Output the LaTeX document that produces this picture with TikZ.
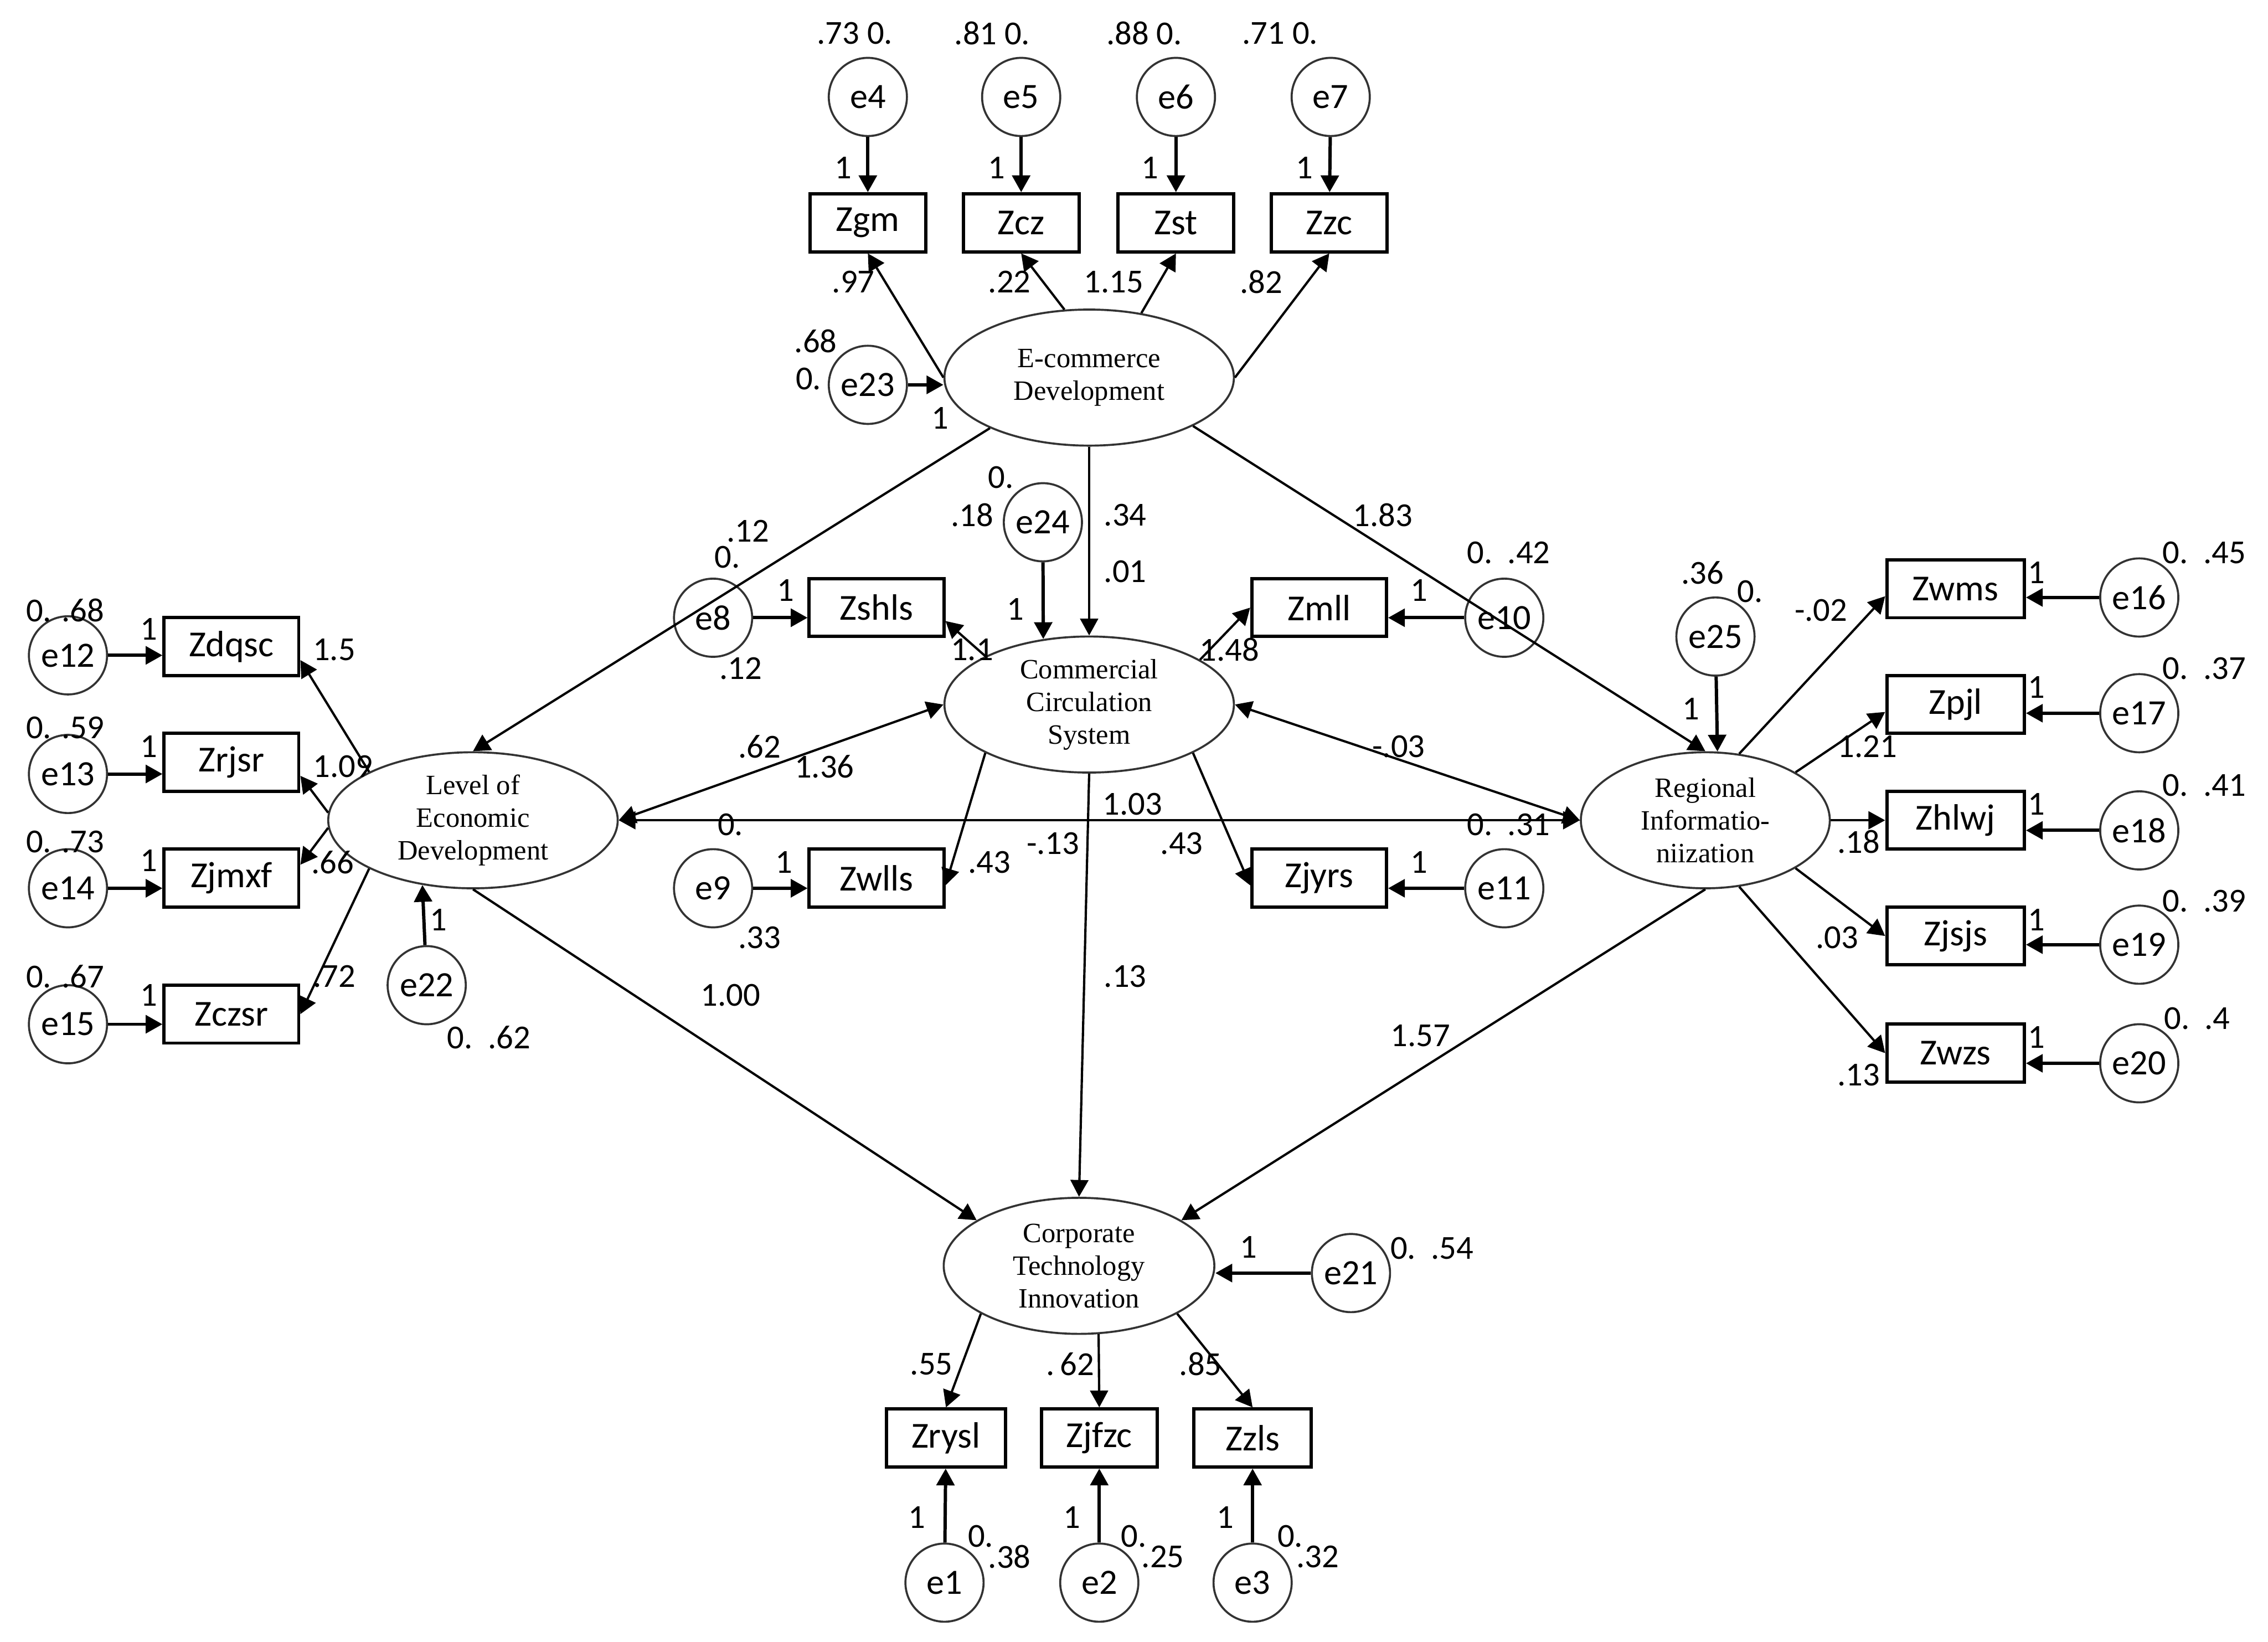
\documentclass[tikz,border=0pt]{standalone}
\usepackage{fontspec}
\setmainfont{Liberation Serif}
\newfontfamily\amosfont{Carlito}
\usetikzlibrary{arrows.meta, shapes.geometric}

\begin{document}
\begin{tikzpicture}[x=0.01cm, y=-0.01cm, >={Triangle[length=3.3pt,width=3.5pt]},
  err/.style={circle, draw=black!80, line width=0.4pt, minimum size=5.4mm, inner sep=0, font=\amosfont\fontsize{7}{8}\selectfont},
  obs/.style={rectangle, draw, line width=0.65pt, minimum width=8mm, minimum height=4mm, inner sep=0, font=\amosfont\fontsize{7.2}{8}\selectfont},
  lat/.style={ellipse, draw=black!80, line width=0.4pt, minimum width=20mm, minimum height=9.4mm, inner sep=0, align=center, font=\fontsize{5.5}{6.4}\selectfont},
  num/.style={inner sep=0, font=\amosfont\fontsize{6.6}{7}\selectfont},
  load/.style={->, line width=0.45pt},
  fix/.style={->, line width=0.65pt}]
  \useasboundingbox (0,0) rectangle (1568,1135);

  \node[lat] (ecd) at (753,261) {E-commerce\\Development};
  \node[lat] (ccs) at (753,487) {Commercial\\Circulation\\System};
  \node[lat] (led) at (327,567) {Level of\\Economic\\Development};
  \node[lat, minimum width=17.2mm] (ri) at (1179,567) {Regional\\Informatio-\\niization};
  \node[lat, minimum width=18.7mm] (cti) at (746,875) {Corporate\\Technology\\Innovation};

  \node[err] (e4) at (600,67) {e4};
  \node[err] (e5) at (706,67) {e5};
  \node[err] (e6) at (813,67) {e6};
  \node[err] (e7) at (920,67) {e7};
  \node[obs] (Zgm) at (600,154) {Zgm};
  \node[obs] (Zcz) at (706,154) {Zcz};
  \node[obs] (Zst) at (813,154) {Zst};
  \node[obs] (Zzc) at (919,154) {Zzc};
  \node[err] (e23) at (600,266) {e23};

  \node[err] (e24) at (721,361) {e24};
  \node[err] (e8) at (493,427) {e8};
  \node[obs, minimum width=9.3mm] (Zshls) at (606,420) {Zshls};
  \node[obs, minimum width=9.3mm] (Zmll) at (912,420) {Zmll};
  \node[err] (e10) at (1040,427) {e10};
  \node[err] (e9) at (493,614) {e9};
  \node[obs, minimum width=9.3mm] (Zwlls) at (606,607) {Zwlls};
  \node[obs, minimum width=9.3mm] (Zjyrs) at (912,607) {Zjyrs};
  \node[err] (e11) at (1040,614) {e11};

  \node[err] (e12) at (47,453) {e12};
  \node[err] (e13) at (47,535) {e13};
  \node[err] (e14) at (47,614) {e14};
  \node[err] (e15) at (47,708) {e15};
  \node[obs, minimum width=9.3mm] (Zdqsc) at (160,447) {Zdqsc};
  \node[obs, minimum width=9.3mm] (Zrjsr) at (160,527) {Zrjsr};
  \node[obs, minimum width=9.3mm] (Zjmxf) at (160,607) {Zjmxf};
  \node[obs, minimum width=9.3mm] (Zczsr) at (160,701) {Zczsr};
  \node[err] (e22) at (295,681) {e22};

  \node[obs, minimum width=9.5mm] (Zwms) at (1352,407) {Zwms};
  \node[obs, minimum width=9.5mm] (Zpjl) at (1352,487) {Zpjl};
  \node[obs, minimum width=9.5mm] (Zhlwj) at (1352,567) {Zhlwj};
  \node[obs, minimum width=9.5mm] (Zjsjs) at (1352,647) {Zjsjs};
  \node[obs, minimum width=9.5mm] (Zwzs) at (1352,728) {Zwzs};
  \node[err] (e16) at (1479,413) {e16};
  \node[err] (e17) at (1479,493) {e17};
  \node[err] (e18) at (1479,574) {e18};
  \node[err] (e19) at (1479,653) {e19};
  \node[err] (e20) at (1479,735) {e20};
  \node[err] (e25) at (1186,440) {e25};

  \node[err] (e21) at (934,880) {e21};
  \node[obs, minimum width=8.2mm] (Zrysl) at (654,994) {Zrysl};
  \node[obs] (Zjfzc) at (760,994) {Zjfzc};
  \node[obs, minimum width=8.1mm] (Zzls) at (866,994) {Zzls};
  \node[err] (e1) at (653,1094) {e1};
  \node[err] (e2) at (760,1094) {e2};
  \node[err] (e3) at (866,1094) {e3};

  \draw[fix] (e4) -- (Zgm);
  \draw[fix] (e5) -- (Zcz);
  \draw[fix] (e6) -- (Zst);
  \draw[fix] (e7) -- (Zzc);
  \draw[fix] (e23) -- (e23 -| ecd.west);
  \draw[fix] (e24) -- (ccs.125);
  \draw[fix] (e8) -- (e8 -| Zshls.west);
  \draw[fix] (e10) -- (e10 -| Zmll.east);
  \draw[fix] (e9) -- (e9 -| Zwlls.west);
  \draw[fix] (e11) -- (e11 -| Zjyrs.east);
  \draw[fix] (e12) -- (e12 -| Zdqsc.west);
  \draw[fix] (e13) -- (e13 -| Zrjsr.west);
  \draw[fix] (e14) -- (e14 -| Zjmxf.west);
  \draw[fix] (e15) -- (e15 -| Zczsr.west);
  \draw[fix] (e22) -- (led.232);
  \draw[fix] (e16) -- (e16 -| Zwms.east);
  \draw[fix] (e17) -- (e17 -| Zpjl.east);
  \draw[fix] (e18) -- (e18 -| Zhlwj.east);
  \draw[fix] (e19) -- (e19 -| Zjsjs.east);
  \draw[fix] (e20) -- (e20 -| Zwzs.east);
  \draw[fix] (e25) -- (ri.80);
  \draw[fix] (e21) -- (e21 -| cti.east);
  \draw[fix] (e1) -- (Zrysl);
  \draw[fix] (e2) -- (Zjfzc);
  \draw[fix] (e3) -- (Zzls);

  \draw[load] (ecd.west) -- (Zgm.south);
  \draw[load] (ecd.110) -- (Zcz.south);
  \draw[load] (ecd.51) -- (Zst.south);
  \draw[load] (ecd.east) -- (Zzc.south);
  \draw[load] (ccs.155) -- (Zshls.-11);
  \draw[load] (ccs.22) -- (Zmll.west);
  \draw[load] (ccs.205) -- (Zwlls.-6);
  \draw[load] (ccs.335) -- (Zjyrs.186);
  \draw[load] (led.155) -- (Zdqsc.-11);
  \draw[load] (led.177) -- (Zrjsr.-11);
  \draw[load] (led.183) -- (Zjmxf.11);
  \draw[load] (led.205) -- (Zczsr.east);
  \draw[load] (ri.63) -- (Zwms.186);
  \draw[load] (ri.28) -- (Zpjl.186);
  \draw[load] (ri.east) -- (Zhlwj.west);
  \draw[load] (ri.-28) -- (Zjsjs.west);
  \draw[load] (ri.-63) -- (Zwzs.west);
  \draw[load] (cti.206) -- (Zrysl.north);
  \draw[load] (cti.-74) -- (Zjfzc.north);
  \draw[load] (cti.-26) -- (Zzls.north);

  \draw[load] (ecd.207) -- (led.north);
  \draw[load] (ecd.335) -- (ri.north);
  \draw[load] (ecd.south) -- (ccs.north);
  \draw[load] (led.south) -- (cti.156);
  \draw[load] (ri.south) -- (cti.24);
  \draw[load] (ccs.south) -- (cti.north);
  \draw[load, <->] (led.east) -- (ccs.west);
  \draw[load, <->] (ccs.east) -- (ri.west);
  \draw[load, <->] (led.east) -- (ri.west);

  \node[num] (ve4) at (591,23) {.73 0.};
  \node[num] (ve5) at (686,23) {.81 0.};
  \node[num] (ve6) at (791,23) {.88 0.};
  \node[num] (ve7) at (885,23) {.71 0.};
  \node[num] (w4) at (583,116) {1};
  \node[num] (w5) at (689,116) {1};
  \node[num] (w6) at (795,116) {1};
  \node[num] (w7) at (902,116) {1};
  \node[num] (b1) at (590,195) {.97};
  \node[num] (b2) at (698,195) {.22};
  \node[num] (b3) at (770,195) {1.15};
  \node[num] (b4) at (872,195) {.82};
  \node[num] (ve23a) at (564,236) {.68};
  \node[num] (ve23b) at (559,262) {0.};
  \node[num] (w23) at (650,289) {1};

  \node[num] (ve24a) at (692,330) {0.};
  \node[num] (ve24b) at (672,356) {.18};
  \node[num] (w24) at (702,421) {1};
  \node[num] (p1) at (778,356) {.34};
  \node[num] (p2) at (778,395) {.01};
  \node[num] (p3) at (956,356) {1.83};
  \node[num] (ve8a) at (517,367) {.12};
  \node[num] (ve8b) at (503,385) {0.};
  \node[num] (ve8c) at (512,462) {.12};
  \node[num] (w8) at (543,408) {1};
  \node[num] (ve10) at (1043,382) {0.\ \ .42};
  \node[num] (w10) at (981,408) {1};
  \node[num] (b5) at (672,449) {1.1};
  \node[num] (b6) at (850,449) {1.48};
  \node[num] (p4) at (525,516) {.62};
  \node[num] (p5) at (570,530) {1.36};
  \node[num] (p6) at (967,516) {-.03};
  \node[num] (p7) at (783,556) {1.03};
  \node[num] (p8) at (505,570) {0.};
  \node[num] (ve11) at (1043,570) {0.\ \ .31};
  \node[num] (p9) at (728,583) {-.13};
  \node[num] (b7) at (684,596) {.43};
  \node[num] (b8) at (817,583) {.43};
  \node[num] (w9) at (542,596) {1};
  \node[num] (ve9) at (525,648) {.33};
  \node[num] (w11) at (981,596) {1};

  \node[num] (ve12) at (45,422) {0. .68};
  \node[num] (ve13) at (45,503) {0. .59};
  \node[num] (ve14) at (45,582) {0. .73};
  \node[num] (ve15) at (45,675) {0. .67};
  \node[num] (w12) at (103,435) {1};
  \node[num] (w13) at (103,516) {1};
  \node[num] (w14) at (103,595) {1};
  \node[num] (w15) at (103,688) {1};
  \node[num] (b9) at (231,449) {1.5};
  \node[num] (b10) at (237,530) {1.09};
  \node[num] (b11) at (230,596) {.66};
  \node[num] (b12) at (231,675) {.72};
  \node[num] (w22) at (303,636) {1};
  \node[num] (ve22) at (338,717) {0.\ \ .62};

  \node[num] (ve25a) at (1177,396) {.36};
  \node[num] (ve25b) at (1210,409) {0.};
  \node[num] (w25) at (1169,490) {1};
  \node[num] (b13) at (1259,422) {-.02};
  \node[num] (b14) at (1291,516) {1.21};
  \node[num] (b15) at (1285,582) {.18};
  \node[num] (b16) at (1270,648) {.03};
  \node[num] (b17) at (1285,743) {.13};
  \node[num] (w16) at (1408,396) {1};
  \node[num] (w17) at (1408,475) {1};
  \node[num] (w18) at (1408,556) {1};
  \node[num] (w19) at (1408,636) {1};
  \node[num] (w20) at (1408,717) {1};
  \node[num] (ve16) at (1524,382) {0.\ \ .45};
  \node[num] (ve17) at (1524,462) {0.\ \ .37};
  \node[num] (ve18) at (1524,543) {0.\ \ .41};
  \node[num] (ve19) at (1524,623) {0.\ \ .39};
  \node[num] (ve20) at (1519,704) {0.\ \ .4};

  \node[num] (p10) at (505,688) {1.00};
  \node[num] (p11) at (778,675) {.13};
  \node[num] (p12) at (982,716) {1.57};
  \node[num] (w21) at (863,862) {1};
  \node[num] (ve21) at (990,863) {0.\ \ .54};
  \node[num] (b18) at (644,943) {.55};
  \node[num] (b19) at (740,943) {.\,62};
  \node[num] (b20) at (830,943) {.85};
  \node[num] (w1) at (634,1049) {1};
  \node[num] (w2) at (741,1049) {1};
  \node[num] (w3) at (847,1049) {1};
  \node[num] (ve1a) at (678,1062) {0.};
  \node[num] (ve1b) at (698,1076) {.38};
  \node[num] (ve2a) at (784,1062) {0.};
  \node[num] (ve2b) at (804,1076) {.25};
  \node[num] (ve3a) at (892,1062) {0.};
  \node[num] (ve3b) at (911,1076) {.32};
\end{tikzpicture}
\end{document}
